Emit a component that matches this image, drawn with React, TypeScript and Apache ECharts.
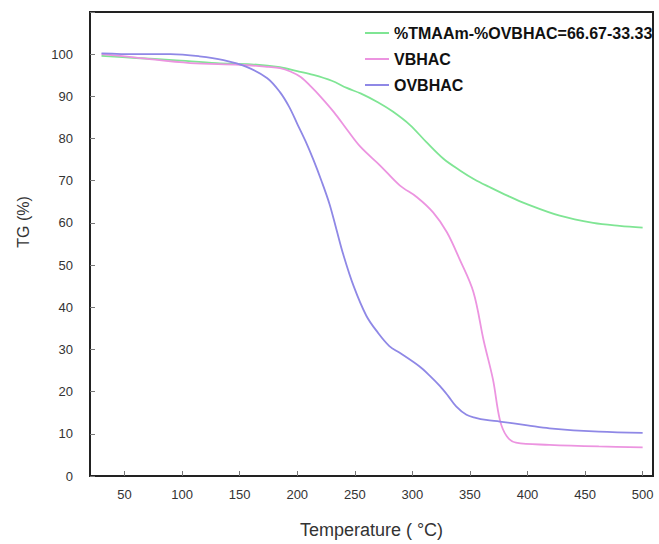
import React, { useEffect, useRef } from "react";
import * as echarts from "echarts";

const xTicks = [50, 100, 150, 200, 250, 300, 350, 400, 450, 500];

const seriesNames = ["%TMAAm-%OVBHAC=66.67-33.33", "VBHAC", "OVBHAC"];
const seriesColors = ["#7fe594", "#ec94e0", "#8f88e6"];

const greenT = [30, 60, 92, 130, 160, 185, 200, 214, 230, 243, 255, 270, 283, 298, 312, 327, 341, 354, 367, 383, 399, 428, 457, 480, 500];
const greenV = [99.6, 99.1, 98.6, 97.9, 97.6, 96.9, 96.0, 95.1, 93.7, 92.0, 90.7, 88.6, 86.4, 83.2, 79.2, 75.2, 72.5, 70.3, 68.5, 66.4, 64.5, 61.7, 60.0, 59.3, 58.9];

const pinkT = [30, 60, 107, 150, 175, 185, 194, 203, 212, 220, 232, 243, 255, 272, 289, 304, 318, 330, 341, 353, 362, 370, 376, 382, 390, 419, 462, 500];
const pinkV = [100, 99.2, 97.9, 97.5, 97.0, 96.7, 95.9, 94.6, 92.3, 90.0, 86.2, 82.2, 78.0, 73.6, 68.9, 66.1, 62.5, 57.8, 51.4, 43.6, 32.0, 22.9, 13.3, 9.4, 7.9, 7.4, 7.0, 6.8];

const purpleT = [30, 60, 90, 115, 136, 156, 174, 185, 193, 200, 207, 214, 221, 228, 234, 240, 249, 260, 270, 280, 289, 306, 315, 324, 331, 338, 347, 355, 364, 376, 400, 419, 462, 500];
const purpleV = [100.2, 100, 100, 99.5, 98.6, 97, 94.3, 91, 87.5, 83.5, 79.5, 75, 70, 64.5, 58.5, 52.5, 45, 38, 34, 30.8, 29.2, 26.0, 23.8, 21.3, 19.0, 16.5, 14.5, 13.8, 13.3, 12.9, 12.0, 11.3, 10.5, 10.2];

const seriesT = [greenT, pinkT, purpleT];
const seriesV = [greenV, pinkV, purpleV];

export default function App() {
  const ref = useRef<HTMLDivElement>(null);
  useEffect(() => {
    if (!ref.current) return;
    const chart = echarts.init(ref.current, null, { renderer: "svg" });
    const font = "'Liberation Sans', Arial, sans-serif";
    chart.setOption({
      animation: false,
      backgroundColor: "#ffffff",
      grid: {
        left: 90,
        right: 6,
        top: 12,
        bottom: 68,
        show: true,
        borderColor: "#222",
        borderWidth: 2,
        containLabel: false,
      },
      legend: {
        orient: "vertical",
        left: 360,
        top: 20,
        icon: "rect",
        itemWidth: 24,
        itemHeight: 2,
        itemGap: 10,
        textStyle: {
          fontFamily: font,
          fontSize: 16,
          fontWeight: "bold",
          color: "#111",
          lineHeight: 16,
        },
        data: seriesNames,
      },
      xAxis: {
        type: "value",
        min: 20,
        max: 509,
        name: "Temperature ( °C)",
        nameLocation: "middle",
        nameGap: 45,
        nameTextStyle: { fontFamily: font, fontSize: 18, color: "#333" },
        axisLine: { show: false },
        splitLine: { show: false },
        axisTick: {
          show: true,
          inside: true,
          length: 5,
          customValues: xTicks,
          lineStyle: { color: "#777", width: 1 },
        },
        axisLabel: {
          customValues: xTicks,
          margin: 12,
          fontFamily: font,
          fontSize: 13,
          color: "#333",
        },
      },
      yAxis: {
        type: "value",
        min: 0,
        max: 110,
        interval: 10,
        axisLine: { show: false },
        splitLine: { show: false },
        axisTick: {
          show: true,
          inside: true,
          length: 5,
          lineStyle: { color: "#777", width: 1 },
        },
        axisLabel: {
          margin: 17,
          fontFamily: font,
          fontSize: 13,
          color: "#333",
          formatter: (v: number) => (v === 110 ? "" : String(v)),
        },
      },
      graphic: [
        {
          type: "text",
          x: 23,
          y: 222,
          rotation: Math.PI / 2,
          style: {
            text: "TG (%)",
            fontFamily: font,
            fontSize: 16,
            fill: "#333",
            align: "center",
            verticalAlign: "middle",
          },
        },
      ],
      series: seriesNames.map((name, i) => ({
        name,
        type: "line",
        smooth: 0.35,
        symbol: "none",
        lineStyle: { color: seriesColors[i], width: 1.8 },
        itemStyle: { color: seriesColors[i] },
        data: seriesT[i].map((t, j) => [t, seriesV[i][j]]),
      })),
    });
    return () => chart.dispose();
  }, []);
  return (
    <div
      ref={ref}
      style={{ position: "fixed", left: 0, top: 0, width: 659, height: 544 }}
    />
  );
}
